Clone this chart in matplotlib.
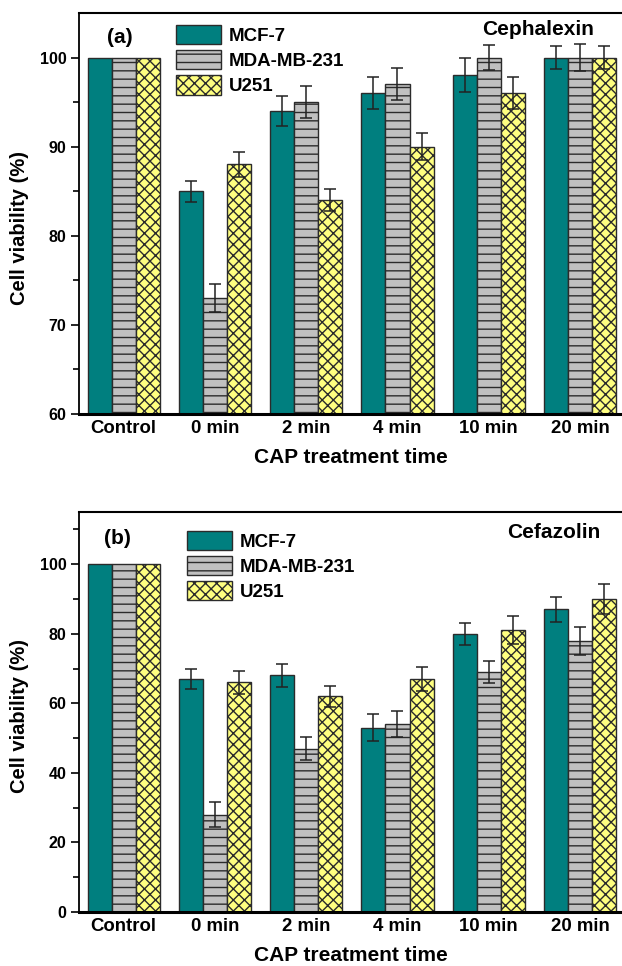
import matplotlib.pyplot as plt
import numpy as np

plt.rcParams['font.family'] = ['Liberation Sans', 'DejaVu Sans']
plt.rcParams['font.weight'] = 'bold'
plt.rcParams['hatch.linewidth'] = 1.0

# Data
groups = ['Control', '0 min', '2 min', '4 min', '10 min', '20 min']
cells = ['MCF-7', 'MDA-MB-231', 'U251']

# (a) Cephalexin
ceph_mcf = [100, 85, 94, 96, 98, 100]
ceph_mda = [100, 73, 95, 97, 100, 100]
ceph_u251 = [100, 88, 84, 90, 96, 100]
ceph_mcf_err = [0, 1.2, 1.7, 1.8, 1.9, 1.3]
ceph_mda_err = [0, 1.6, 1.8, 1.8, 1.4, 1.5]
ceph_u251_err = [0, 1.4, 1.2, 1.5, 1.8, 1.3]

# (b) Cefazolin
cefa_mcf = [100, 67, 68, 53, 80, 87]
cefa_mda = [100, 28, 47, 54, 69, 78]
cefa_u251 = [100, 66, 62, 67, 81, 90]
cefa_mcf_err = [0, 2.8, 3.4, 3.8, 3.1, 3.5]
cefa_mda_err = [0, 3.5, 3.2, 3.8, 3.3, 4.0]
cefa_u251_err = [0, 3.2, 3.1, 3.4, 4.0, 4.3]

colors = ['#007f7f', '#c0c0c0', '#ffff80']
hatches = ['', '--', 'xxx']
edge = '#2b2b2b'


def panel(ax, series, errs, ylim, major, minor, tag, drug, leg_xy, tag_xy, drug_xy, ylab_y):
    x = np.arange(len(groups))
    w = 0.264
    for i, (vals, err) in enumerate(zip(series, errs)):
        pos = x + (i - 1) * w
        ax.bar(pos, vals, w, color=colors[i], hatch=hatches[i], edgecolor=edge,
               linewidth=1.0, label=cells[i], zorder=2)
        e = np.array(err, dtype=float)
        m = e > 0
        ax.errorbar(pos[m], np.array(vals)[m], yerr=e[m], fmt='none', ecolor='#222222',
                    elinewidth=1.1, capsize=4, capthick=1.1, zorder=3)

    ax.set_xlim(-0.49, 5.46)
    ax.set_ylim(*ylim)
    ax.set_yticks(major)
    ax.set_yticks(minor, minor=True)
    ax.set_xticks(x)
    ax.set_xticklabels(groups, fontsize=13.4, fontweight='bold')
    ax.tick_params(axis='x', length=0, pad=4)
    ax.tick_params(axis='y', which='major', direction='out', length=6, width=1.2,
                   labelsize=11.5, pad=3)
    ax.tick_params(axis='y', which='minor', direction='out', length=4, width=1.2)
    for lab in ax.get_yticklabels():
        lab.set_fontweight('bold')

    ax.spines['right'].set_visible(False)
    ax.spines['left'].set_linewidth(1.3)
    ax.spines['top'].set_linewidth(1.5)
    ax.spines['bottom'].set_linewidth(2.2)

    ax.set_xlabel('CAP treatment time', fontsize=15, fontweight='bold')
    ax.set_ylabel('Cell viability (%)', fontsize=14.5, fontweight='bold')
    ax.xaxis.set_label_coords(0.5, -0.086)
    ax.yaxis.set_label_coords(-0.092, ylab_y)

    ax.text(tag_xy[0], tag_xy[1], tag, transform=ax.transAxes, fontsize=15,
            fontweight='bold', va='center', ha='left')
    ax.text(drug_xy[0], drug_xy[1], drug, transform=ax.transAxes, fontsize=15,
            fontweight='bold', va='center', ha='right')

    ax.legend(loc='upper left', bbox_to_anchor=leg_xy, frameon=False,
              prop={'size': 13.5, 'weight': 'bold'}, handlelength=2.4,
              handleheight=1.2, labelspacing=0.28, handletextpad=0.4,
              borderpad=0, borderaxespad=0)


fig = plt.figure(figsize=(6.22, 9.66), dpi=100)
ax1 = fig.add_axes([79 / 622, 1 - 414 / 966, 543 / 622, 401 / 966])
ax2 = fig.add_axes([79 / 622, 1 - 912 / 966, 543 / 622, 400 / 966])

panel(ax1, [ceph_mcf, ceph_mda, ceph_u251], [ceph_mcf_err, ceph_mda_err, ceph_u251_err],
      (60, 105), [60, 70, 80, 90, 100], [65, 75, 85, 95],
      '(a)', 'Cephalexin', (0.179, 0.97), (0.052, 0.94), (0.948, 0.958), 0.464)
panel(ax2, [cefa_mcf, cefa_mda, cefa_u251], [cefa_mcf_err, cefa_mda_err, cefa_u251_err],
      (0, 115), [0, 20, 40, 60, 80, 100], [10, 30, 50, 70, 90, 110],
      '(b)', 'Cefazolin', (0.199, 0.953), (0.046, 0.935), (0.961, 0.95), 0.49)

fig.savefig('out.png', dpi=100)
